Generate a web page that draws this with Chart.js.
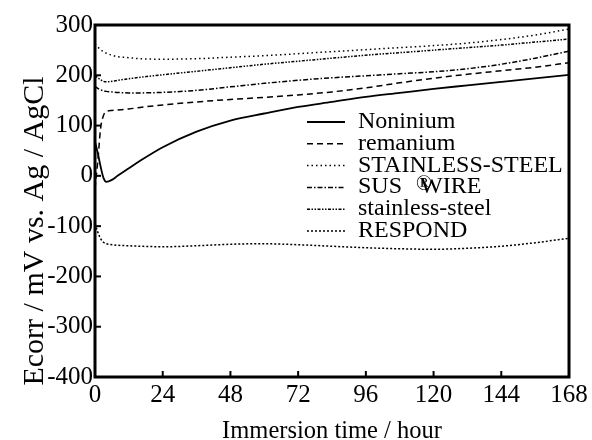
<!DOCTYPE html>
<html>
<head>
<meta charset="utf-8">
<script src="https://cdn.jsdelivr.net/npm/chart.js@4.4.0/dist/chart.umd.min.js"></script>
<style>
    body { margin: 0; background: #fff; }
    #wrap { width: 592px; height: 440px; }
</style>
</head>
<body>
<div id="wrap"><canvas id="ecorrChart" width="592" height="440"></canvas></div>
<script>
// immersion time (hours) at which the curves were read
const hours = [0, 1, 2, 3, 4, 6, 8, 12, 16, 24, 36, 48, 60, 72, 84, 96, 108, 120, 132, 144, 156, 168];

// Ecorr in mV vs. Ag/AgCl
const noninium       = [68, 45, 18, -4, -12, -8, 0, 15, 30, 57, 88, 110, 124, 137, 147, 157, 165, 173, 180, 187, 194, 201];
const remanium       = [-25, 30, 95, 120, 128, 130, 131, 133, 136, 141, 147, 152, 156, 161, 167, 175, 185, 194, 202, 209, 216, 225];
const stainlessUpper = [262, 256, 251, 247, 244, 240, 237, 235, 233, 232, 233, 236, 239, 243, 247, 251, 255, 259, 264, 271, 280, 292];
const susWire        = [178, 174, 171, 169, 168, 167, 166, 165, 165, 166, 170, 177, 184, 190, 195, 199, 203, 207, 213, 222, 234, 248];
const stainlessLower = [200, 195, 191, 188, 187, 188, 190, 193, 196, 201, 208, 215, 222, 228, 234, 240, 245, 250, 255, 260, 266, 272];
const respond        = [-95, -112, -125, -132, -135, -137, -138, -139, -140, -141, -139, -136, -135, -137, -140, -143, -145, -146, -144, -140, -133, -124];

const seriesNames = ['Noninium', 'remanium', 'STAINLESS-STEEL', 'SUS \u00AEWIRE', 'stainless-steel', 'RESPOND'];

const xTicks = [0, 24, 48, 72, 96, 120, 144, 168];
const yTicks = [-400, -300, -200, -100, 0, 100, 200, 300];

const serif = '"Liberation Serif", "Times New Roman", serif';

function toPoints(values) {
    return values.map((v, i) => ({ x: hours[i], y: v }));
}

function makeSet(label, values, dash, width) {
    return {
        label: label,
        data: toPoints(values),
        borderColor: '#000',
        borderWidth: width,
        borderDash: dash,
        pointRadius: 0,
        fill: false,
        cubicInterpolationMode: 'monotone'
    };
}

// frame, inward ticks, legend and axis titles
const decorations = {
    id: 'decorations',
    afterDraw(chart) {
        const c = chart.ctx;
        const a = chart.chartArea;
        const xs = chart.scales.x;
        const ys = chart.scales.y;
        c.save();
        c.strokeStyle = '#000';
        c.setLineDash([]);

        // tick marks pointing into the plot
        c.lineWidth = 2;
        yTicks.forEach(v => {
            const py = ys.getPixelForValue(v);
            c.beginPath();
            c.moveTo(a.left, py);
            c.lineTo(a.left + 6, py);
            c.stroke();
        });
        xTicks.forEach(v => {
            const px = xs.getPixelForValue(v);
            c.beginPath();
            c.moveTo(px, a.bottom);
            c.lineTo(px, a.bottom - 6);
            c.stroke();
        });

        // heavy box
        c.lineWidth = 3;
        c.strokeRect(a.left, a.top, a.right - a.left, a.bottom - a.top);

        // legend
        c.fillStyle = '#000';
        c.textAlign = 'left';
        c.textBaseline = 'alphabetic';
        chart.data.datasets.forEach((ds, i) => {
            const base = 128 + i * 21.8;
            c.lineWidth = ds.borderWidth;
            c.setLineDash(ds.borderDash);
            c.beginPath();
            c.moveTo(307, base - 6);
            c.lineTo(345, base - 6);
            c.stroke();
            c.font = '24px ' + serif;
            const parts = ds.label.split('\u00AE');
            if (parts.length === 2) {
                // the registered mark is printed on top of the "W"
                c.fillText(parts[0], 358, base);
                c.fillText(parts[1], 420, base);
                c.font = '21px ' + serif;
                c.fillText('\u00AE', 416, base - 3);
            } else {
                c.fillText(ds.label, 358, base);
            }
        });

        // axis titles
        c.setLineDash([]);
        c.textAlign = 'center';
        c.font = '24.5px ' + serif;
        c.fillText('Immersion time / hour', (a.left + a.right) / 2, 438);
        c.font = '30px ' + serif;
        c.translate(43, 231);
        c.rotate(-Math.PI / 2);
        c.fillText('Ecorr / mV vs. Ag / AgCl', 0, 0);
        c.restore();
    }
};

const ctx = document.getElementById('ecorrChart').getContext('2d');
const ecorrChart = new Chart(ctx, {
    type: 'line',
    data: {
        datasets: [
            makeSet(seriesNames[0], noninium, [], 1.8),
            makeSet(seriesNames[1], remanium, [6, 4], 1.5),
            makeSet(seriesNames[2], stainlessUpper, [1.5, 3], 1.5),
            makeSet(seriesNames[3], susWire, [5, 2, 1.5, 2], 1.5),
            makeSet(seriesNames[4], stainlessLower, [3, 1.5, 1.5, 1.5, 1.5, 1.5], 1.5),
            makeSet(seriesNames[5], respond, [2, 2], 1.5)
        ]
    },
    options: {
        responsive: false,
        animation: false,
        devicePixelRatio: 1,
        layout: { padding: { top: 25, right: 23, left: 0, bottom: 0 } },
        plugins: {
            legend: { display: false },
            tooltip: { enabled: false }
        },
        scales: {
            x: {
                type: 'linear',
                min: 0,
                max: 168,
                afterBuildTicks: s => { s.ticks = xTicks.map(v => ({ value: v })); },
                afterFit: s => { s.height = 63; },
                grid: { display: false, drawTicks: false },
                border: { display: false },
                ticks: { color: '#000', padding: 3, maxRotation: 0, font: { family: serif, size: 25 } }
            },
            y: {
                type: 'linear',
                min: -400,
                max: 300,
                afterBuildTicks: s => { s.ticks = yTicks.map(v => ({ value: v })); },
                afterFit: s => { s.width = 95; },
                grid: { display: false, drawTicks: false },
                border: { display: false },
                ticks: { color: '#000', padding: 2, font: { family: serif, size: 25 } }
            }
        }
    },
    plugins: [decorations]
});
</script>
</body>
</html>
